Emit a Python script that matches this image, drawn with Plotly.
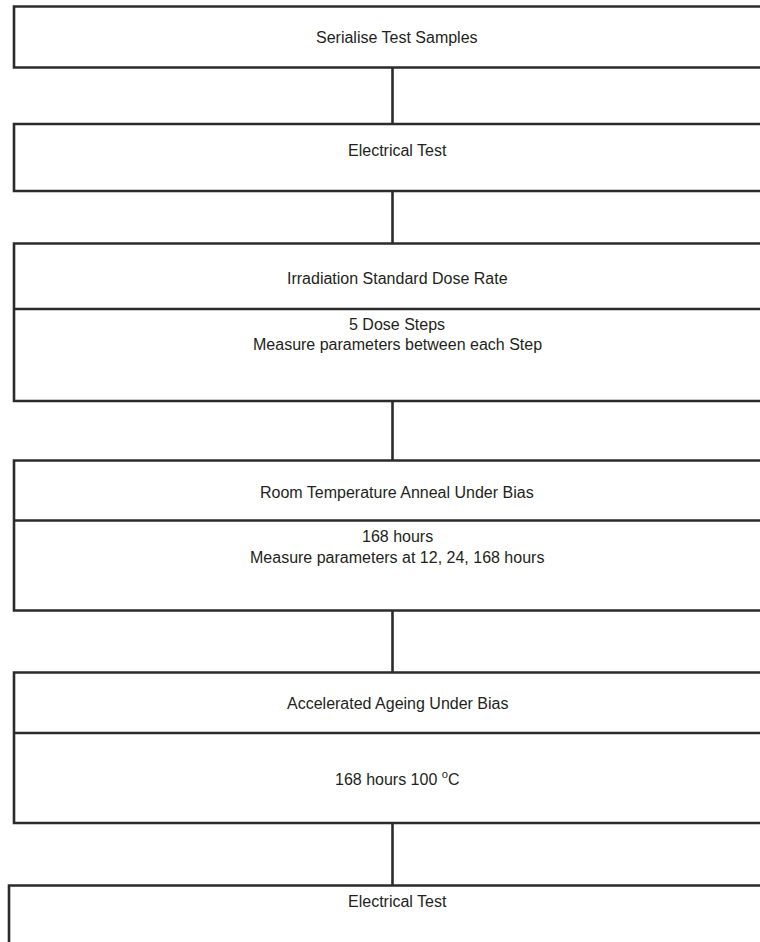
import plotly.graph_objects as go

# Flowchart content
step_titles = [
    "Serialise Test Samples",
    "Electrical Test",
    "Irradiation Standard Dose Rate",
    "Room Temperature Anneal Under Bias",
    "Accelerated Ageing Under Bias",
    "Electrical Test",
]
step_details = [
    None,
    None,
    ["5 Dose Steps", "Measure parameters between each Step"],
    ["168 hours", "Measure parameters at 12, 24, 168 hours"],
    ["168 hours 100 <sup>o</sup>C"],
    None,
]

# Geometry (pixels, y down)
W, H = 760, 942
box_left = [14, 14, 14, 14, 14, 9]
box_top = [6.5, 124, 243.5, 460.5, 672.5, 885.5]
box_div = [None, None, 309, 520.5, 733, None]
box_bottom = [67.5, 191, 401, 610.5, 823, 960]
title_y = [37, 150, 278, 492, 703, 901]
detail_y = [None, None, [324, 344], [536, 557], [778], None]
conn_x = 392.5
text_x = 397

LC = "#2b2b2b"
LW = 2.6
FONT = dict(size=16, color="#231f20", family="Liberation Sans, Arial, sans-serif")

fig = go.Figure()
shapes = []
for i in range(len(step_titles)):
    l, t, b = box_left[i], box_top[i], box_bottom[i]
    shapes.append(dict(type="rect", x0=l, x1=W + 20, y0=t, y1=b,
                       line=dict(color=LC, width=LW), fillcolor="rgba(0,0,0,0)"))
    if box_div[i] is not None:
        shapes.append(dict(type="line", x0=l, x1=W + 20, y0=box_div[i], y1=box_div[i],
                           line=dict(color=LC, width=LW)))
    if i < len(step_titles) - 1:
        shapes.append(dict(type="line", x0=conn_x, x1=conn_x, y0=b, y1=box_top[i + 1],
                           line=dict(color=LC, width=LW)))

annotations = []
for i, title in enumerate(step_titles):
    annotations.append(dict(x=text_x, y=title_y[i], text=title, showarrow=False,
                            xanchor="center", yanchor="middle", font=FONT))
    if step_details[i]:
        for line, yy in zip(step_details[i], detail_y[i]):
            annotations.append(dict(x=text_x, y=yy, text=line, showarrow=False,
                                    xanchor="center", yanchor="middle", font=FONT))

fig.update_layout(
    width=W, height=H,
    margin=dict(l=0, r=0, t=0, b=0),
    paper_bgcolor="white", plot_bgcolor="white",
    xaxis=dict(range=[0, W], visible=False, fixedrange=True),
    yaxis=dict(range=[H, 0], visible=False, fixedrange=True),
    shapes=shapes, annotations=annotations,
    showlegend=False,
)
fig.write_html("out.html", config={"displayModeBar": False},
               post_script="document.body.style.margin='0px';document.body.style.overflow='hidden';")
